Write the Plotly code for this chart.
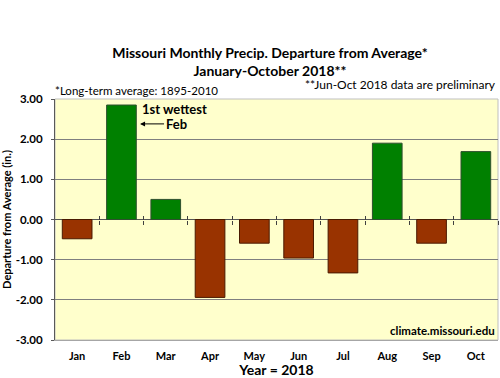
import plotly.graph_objects as go

months = ["Jan", "Feb", "Mar", "Apr", "May", "Jun", "Jul", "Aug", "Sep", "Oct"]
departure = [-0.48, 2.85, 0.50, -1.94, -0.59, -0.96, -1.33, 1.90, -0.59, 1.69]
ytick_vals = [3, 2, 1, 0, -1, -2, -3]
ytick_text = ["3.00", "2.00", "1.00", "0.00", "-1.00", "-2.00", "-3.00"]
boundary_ticks = [0.5, 1.5, 2.5, 3.5, 4.5, 5.5, 6.5, 7.5, 8.5, 9.5]

FONT = "Lato"
GREEN = "#008000"
BROWN = "#993300"

colors = [GREEN if v >= 0 else BROWN for v in departure]
outlines = ["#2f4f2f" if v >= 0 else "#4a1a00" for v in departure]

fig = go.Figure()
fig.add_trace(go.Bar(
    x=list(range(len(months))), y=departure,
    marker=dict(color=colors, line=dict(color=outlines, width=1)),
    width=0.67, showlegend=False, hoverinfo="y",
))
# empty helper traces so the tick-only axes along the zero line get drawn
for ax in ("x2", "x3"):
    fig.add_trace(go.Scatter(x=[], y=[], xaxis=ax, yaxis="y", showlegend=False, hoverinfo="skip"))

fig.update_layout(
    width=500, height=378,
    margin=dict(l=55, r=2, t=99, b=38),
    paper_bgcolor="white",
    plot_bgcolor="#FFFFCC",
    font=dict(family=FONT, color="black"),
    title=dict(
        text="<b>Missouri Monthly Precip. Departure from Average*<br>January-October 2018**</b>",
        x=0.54, xanchor="center", y=0.846, yanchor="middle",
        font=dict(size=14, family=FONT, lineposition="none"),
    ),
    xaxis=dict(
        range=[-0.5, 9.5], tickmode="array",
        tickvals=list(range(len(months))), ticktext=months,
        showline=True, linecolor="#a6a6a6", linewidth=1,
        ticks="", showgrid=False, zeroline=False, ticklabelstandoff=6,
        tickfont=dict(size=11, family=FONT, weight="bold"),
        title=dict(text="<b>Year = 2018</b>", font=dict(size=14, family=FONT), standoff=3),
    ),
    xaxis2=dict(
        overlaying="x", anchor="free", position=0.5, range=[-0.5, 9.5],
        tickmode="array", tickvals=boundary_ticks, showticklabels=False,
        ticks="outside", ticklen=4, tickcolor="#404040", tickwidth=1,
        showline=False, showgrid=False, zeroline=False,
    ),
    xaxis3=dict(
        overlaying="x", anchor="free", position=0.5, range=[-0.5, 9.5],
        tickmode="array", tickvals=boundary_ticks, showticklabels=False,
        ticks="inside", ticklen=4, tickcolor="#404040", tickwidth=1,
        showline=False, showgrid=False, zeroline=False,
    ),
    yaxis=dict(
        range=[-3, 3], tickmode="array", tickvals=ytick_vals, ticktext=ytick_text,
        showline=True, linecolor="#595959", linewidth=1,
        ticks="outside", ticklen=3, tickcolor="#595959", ticklabelstandoff=6,
        showgrid=True, gridcolor="#7f7f7f", gridwidth=1,
        zeroline=True, zerolinecolor="#555555", zerolinewidth=1,
        tickfont=dict(size=11.5, family=FONT, weight="bold"),
        title=dict(text="<b>Departure from Average (in.)</b>", font=dict(size=11, family=FONT), standoff=3),
    ),
    shapes=[
        dict(type="rect", xref="paper", yref="paper", x0=0, x1=1, y0=0, y1=1,
             line=dict(color="#bfbfbf", width=1), layer="below"),
    ],
    annotations=[
        dict(text="*Long-term average: 1895-2010", xref="paper", yref="paper",
             x=-0.005, y=1.0, xanchor="left", yanchor="bottom", showarrow=False,
             font=dict(size=11.5, family=FONT)),
        dict(text="**Jun-Oct 2018 data are preliminary", xref="paper", yref="paper",
             x=1.0, y=1.02, xanchor="right", yanchor="bottom", showarrow=False,
             font=dict(size=12, family=FONT)),
        dict(text="<b>1st wettest</b>", x=2.2, y=2.75, xref="x", yref="y",
             showarrow=False, font=dict(size=13, family=FONT)),
        dict(text="<b>Feb</b>", x=1.42, y=2.38, xref="x", yref="y",
             ax=36, ay=0, showarrow=True, arrowhead=2, arrowsize=1, arrowwidth=1,
             arrowcolor="black", standoff=0, font=dict(size=13, family=FONT)),
        dict(text="<b>climate.missouri.edu</b>", xref="paper", yref="paper",
             x=0.998, y=0.005, xanchor="right", yanchor="bottom", showarrow=False,
             font=dict(size=11.5, family=FONT)),
    ],
)

fig.write_html(
    "out.html",
    config={"displayModeBar": False},
    post_script="document.body.style.margin='0';document.body.style.overflow='hidden';",
)
